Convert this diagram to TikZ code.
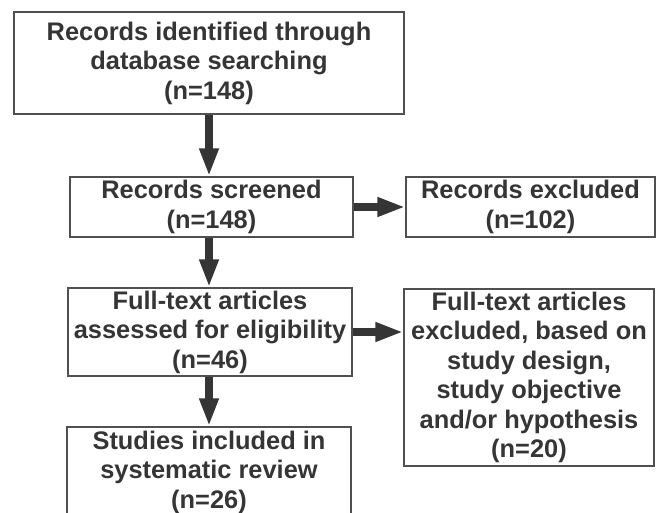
\documentclass[tikz,border=0pt]{standalone}
\usepackage{fontspec}
\setmainfont{Liberation Sans}
\usetikzlibrary{arrows.meta}
\definecolor{inkgray}{HTML}{353535}
\definecolor{framegray}{HTML}{505050}
\tikzset{
  box/.style={draw=framegray, line width=1.4pt, fill=white, inner sep=0pt,
    align=center, text=inkgray,
    font=\fontsize{25.4pt}{29.5pt}\selectfont\bfseries},
  flow/.style={draw=inkgray, line width=8.5pt,
    -{Triangle[length=28pt,width=18pt]}, color=inkgray}
}
\begin{document}
\begin{tikzpicture}[x=1pt,y=-1pt]
\useasboundingbox (0,0) rectangle (662,513);
\fill[white] (0,0) rectangle (662,513);

\node[box, minimum width=390pt, minimum height=102pt] (ident) at (209,63)
  {Records identified through\\database searching\\(n=148)};
\node[box, minimum width=283pt, minimum height=60pt] (screen) at (211.5,207)
  {Records screened\\(n=148)};
\node[box, minimum width=249pt, minimum height=60pt] (excl) at (530.5,207)
  {Records excluded\\(n=102)};
\node[box, minimum width=284pt, minimum height=88pt] (full) at (210,332)
  {Full-text articles\\assessed for eligibility\\(n=46)};
\node[box, minimum width=250pt, minimum height=177pt] (fexcl) at (529,377.5)
  {Full-text articles\\excluded, based on\\study design,\\study objective\\and/or hypothesis\\(n=20)};
\node[box, minimum width=284pt, minimum height=90pt] (incl) at (209,472)
  {Studies included in\\systematic review\\(n=26)};

\draw[flow] (ident.south) -- (ident.south |- screen.north);
\draw[flow] (ident.south |- screen.south) -- (ident.south |- full.north);
\draw[flow] (incl.north |- full.south) -- (incl.north);
\draw[flow] (screen.east) -- (excl.west);
\draw[flow] (full.east) -- (full.east -| fexcl.west);
\end{tikzpicture}
\end{document}
